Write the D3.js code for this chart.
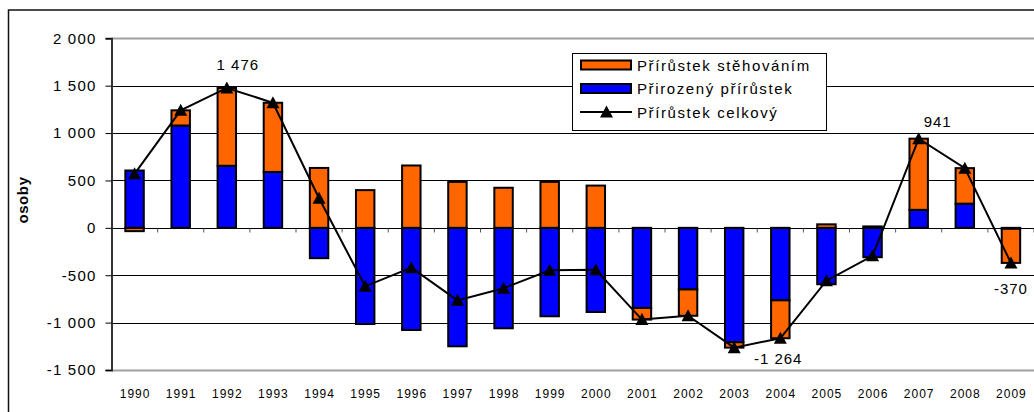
<!DOCTYPE html>
<html>
<head>
<meta charset="utf-8">
<script src="https://cdn.jsdelivr.net/npm/d3@7/dist/d3.min.js"></script>
<style>
    body { margin: 0; background: #fff; }
    svg { display: block; font-family: 'Liberation Sans', Arial, sans-serif; }
</style>
</head>
<body>
<svg id="chart" width="1034" height="412"></svg>
<script>
// values
var years = [ 1990, 1991, 1992, 1993, 1994, 1995, 1996, 1997, 1998, 1999,
              2000, 2001, 2002, 2003, 2004, 2005, 2006, 2007, 2008, 2009 ];
var natural = [ 605, 1080, 655, 590, -320, -1015, -1078, -1250, -1060, -933,
                -888, -845, -650, -1207, -765, -595, -310, 190, 255, -10 ];
var migration = [ -35, 160, 821, 730, 632, 398, 658, 485, 423, 485,
                  446, -123, -278, -57, -400, 37, 15, 751, 375, -360 ];
var total = [ 570, 1240, 1476, 1320, 312, -617, -420, -765, -637, -448,
              -442, -968, -928, -1264, -1165, -558, -295, 941, 630, -370 ];
var yTicks = [ -1500, -1000, -500, 0, 500, 1000, 1500, 2000 ];
var labelledYears = [ 1992, 2003, 2007, 2009 ];
var seriesNames = [ 'Přírůstek stěhováním', 'Přirozený přírůstek', 'Přírůstek celkový' ];

var colors = { migration: '#ff6600', natural: '#0000ff' };

var svg = d3.select( '#chart' ),
    plot = { left: 111.5, right: 1034, top: 38.3, bottom: 370 };

var czLocale = d3.formatLocale( { decimal: ',', thousands: ' ', grouping: [ 3 ], currency: [ '', '' ], minus: '-' } ),
    fmt = czLocale.format( ',d' );

var x = d3.scaleBand()
    .domain( years )
    .range( [ plot.left, plot.right ] )
    .paddingInner( 0.6 )
    .paddingOuter( 0.3 );

var y = d3.scaleLinear()
    .domain( [ -1500, 2000 ] )
    .range( [ plot.bottom, plot.top ] );

var rows = years.map( function ( yr, i ) {
    return { year: yr, natural: natural[ i ], migration: migration[ i ], total: total[ i ] };
} );

// outer chart frame (runs off the right and bottom of the picture)
svg.append( 'rect' )
    .attr( 'x', 8.5 ).attr( 'y', 10 )
    .attr( 'width', 1060 ).attr( 'height', 430 )
    .attr( 'fill', 'none' )
    .attr( 'stroke', '#111' )
    .attr( 'stroke-width', 1.5 );

// gridlines
svg.append( 'g' )
    .selectAll( 'line' )
    .data( yTicks.filter( function ( d ) { return d !== 0; } ) )
    .join( 'line' )
    .attr( 'x1', plot.left ).attr( 'x2', plot.right )
    .attr( 'y1', function ( d ) { return Math.round( y( d ) ) + 0.5; } )
    .attr( 'y2', function ( d ) { return Math.round( y( d ) ) + 0.5; } )
    .attr( 'stroke', function ( d ) { return ( d === 2000 || d === -1500 ) ? '#a0a0a0' : '#000'; } )
    .attr( 'stroke-width', function ( d ) { return ( d === 2000 || d === -1500 ) ? 2 : 1; } );

// stacked bars, positives up and negatives down
var stack = d3.stack()
    .keys( [ 'natural', 'migration' ] )
    .offset( d3.stackOffsetDiverging );
var layers = stack( rows );

svg.append( 'g' )
    .selectAll( 'g' )
    .data( layers )
    .join( 'g' )
    .attr( 'fill', function ( d ) { return colors[ d.key ]; } )
    .selectAll( 'rect' )
    .data( function ( d ) { return d; } )
    .join( 'rect' )
    .attr( 'x', function ( d ) { return x( d.data.year ); } )
    .attr( 'width', x.bandwidth() )
    .attr( 'y', function ( d ) { return y( Math.max( d[ 0 ], d[ 1 ] ) ); } )
    .attr( 'height', function ( d ) { return Math.abs( y( d[ 0 ] ) - y( d[ 1 ] ) ); } )
    .attr( 'stroke', '#000' )
    .attr( 'stroke-width', 2 );

// zero line and its category ticks
var zeroY = Math.round( y( 0 ) ) + 0.5;
svg.append( 'line' )
    .attr( 'x1', plot.left ).attr( 'x2', plot.right )
    .attr( 'y1', zeroY ).attr( 'y2', zeroY )
    .attr( 'stroke', '#000' );
svg.append( 'g' )
    .selectAll( 'line' )
    .data( years )
    .join( 'line' )
    .attr( 'x1', function ( d ) { return x( d ) + x.bandwidth() / 2 + x.step() / 2; } )
    .attr( 'x2', function ( d ) { return x( d ) + x.bandwidth() / 2 + x.step() / 2; } )
    .attr( 'y1', zeroY ).attr( 'y2', zeroY + 4 )
    .attr( 'stroke', '#555' );

// left axis
var yAxis = svg.append( 'g' )
    .attr( 'transform', 'translate(' + plot.left + ',0)' )
    .call( d3.axisLeft( y ).tickValues( yTicks ).tickFormat( fmt ).tickSize( 6 ).tickPadding( 9 ) );
yAxis.select( '.domain' ).attr( 'stroke', '#333' ).attr( 'stroke-width', 2 );
yAxis.selectAll( '.tick line' ).attr( 'stroke', '#000' );
yAxis.selectAll( 'text' )
    .attr( 'fill', '#000' )
    .style( 'font-size', '15px' )
    .style( 'letter-spacing', '1.2px' );

// year labels under the plot
var xAxis = svg.append( 'g' )
    .attr( 'transform', 'translate(0,' + plot.bottom + ')' )
    .call( d3.axisBottom( x ).tickSize( 0 ).tickPadding( 19 ) );
xAxis.select( '.domain' ).remove();
xAxis.selectAll( 'text' )
    .attr( 'fill', '#000' )
    .attr( 'dx', '0.5px' )
    .style( 'font-size', '12px' )
    .style( 'letter-spacing', '1px' );

// y axis title
svg.append( 'text' )
    .attr( 'transform', 'translate(28,200) rotate(-90)' )
    .attr( 'text-anchor', 'middle' )
    .style( 'font-size', '15px' )
    .style( 'font-weight', 'bold' )
    .style( 'letter-spacing', '0.6px' )
    .text( 'osoby' );

// total line with triangle markers
var triangle = 'M0,-6.5L6.5,5.5L-6.5,5.5Z';
var line = d3.line()
    .x( function ( d ) { return x( d.year ) + x.bandwidth() / 2; } )
    .y( function ( d ) { return y( d.total ); } );

svg.append( 'path' )
    .datum( rows )
    .attr( 'd', line )
    .attr( 'fill', 'none' )
    .attr( 'stroke', '#000' )
    .attr( 'stroke-width', 2 );

svg.append( 'g' )
    .selectAll( 'path' )
    .data( rows )
    .join( 'path' )
    .attr( 'transform', function ( d ) { return 'translate(' + ( x( d.year ) + x.bandwidth() / 2 ) + ',' + y( d.total ) + ')'; } )
    .attr( 'd', triangle )
    .attr( 'fill', '#000' );

// data labels for selected totals
var labelOffsets = { 1992: [ 11, -18 ], 2003: [ 44, 16 ], 2007: [ 19, -12 ], 2009: [ 0, 31 ] };
svg.append( 'g' )
    .selectAll( 'text' )
    .data( rows.filter( function ( d ) { return labelledYears.indexOf( d.year ) >= 0; } ) )
    .join( 'text' )
    .attr( 'x', function ( d ) { return x( d.year ) + x.bandwidth() / 2 + labelOffsets[ d.year ][ 0 ]; } )
    .attr( 'y', function ( d ) { return y( d.total ) + labelOffsets[ d.year ][ 1 ]; } )
    .attr( 'text-anchor', 'middle' )
    .style( 'font-size', '15px' )
    .style( 'letter-spacing', '1px' )
    .text( function ( d ) { return fmt( d.total ); } );

// legend
var legend = svg.append( 'g' ).attr( 'transform', 'translate(572,53)' );
legend.append( 'rect' )
    .attr( 'x', 0.5 ).attr( 'y', 0.5 )
    .attr( 'width', 254 ).attr( 'height', 77 )
    .attr( 'fill', '#fff' )
    .attr( 'stroke', '#000' );

var legendRows = legend.selectAll( 'g' )
    .data( seriesNames )
    .join( 'g' )
    .attr( 'transform', function ( d, i ) { return 'translate(0,' + ( 12 + i * 23.5 ) + ')'; } );

legendRows.filter( function ( d, i ) { return i < 2; } )
    .append( 'rect' )
    .attr( 'x', 9 ).attr( 'y', -4.5 )
    .attr( 'width', 50 ).attr( 'height', 9 )
    .attr( 'fill', function ( d, i ) { return i === 0 ? colors.migration : colors.natural; } )
    .attr( 'stroke', '#000' )
    .attr( 'stroke-width', 2 );

var lineRow = legendRows.filter( function ( d, i ) { return i === 2; } );
lineRow.append( 'line' )
    .attr( 'x1', 8 ).attr( 'x2', 60 )
    .attr( 'y1', 0 ).attr( 'y2', 0 )
    .attr( 'stroke', '#000' )
    .attr( 'stroke-width', 1.8 );
lineRow.append( 'path' )
    .attr( 'transform', 'translate(34.5,0)' )
    .attr( 'd', triangle )
    .attr( 'fill', '#000' );

legendRows.append( 'text' )
    .attr( 'x', 65 )
    .attr( 'y', 5.5 )
    .style( 'font-size', '15px' )
    .style( 'letter-spacing', '1.6px' )
    .text( function ( d ) { return d; } );
</script>
</body>
</html>
